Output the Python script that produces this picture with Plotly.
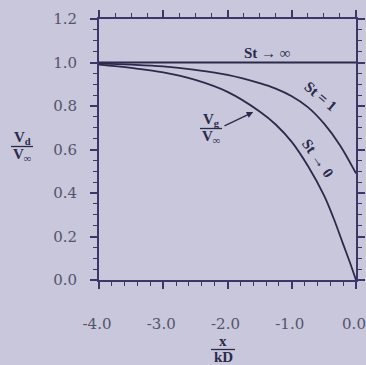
import plotly.graph_objects as go

# Data
x_inf = [-4.0, 0.0]
v_inf = [1.0, 1.0]

x_st1 = [-4.0, -3.5, -3.0, -2.5, -2.0, -1.5, -1.25, -1.0, -0.75, -0.5, -0.25, 0.0]
v_st1 = [0.995, 0.99, 0.982, 0.966, 0.943, 0.905, 0.88, 0.845, 0.795, 0.72, 0.62, 0.49]

x_st0 = [-4.0, -3.5, -3.0, -2.5, -2.0, -1.5, -1.25, -1.0, -0.75, -0.5, -0.35, -0.2, -0.1, 0.0]
v_st0 = [0.99, 0.975, 0.955, 0.92, 0.865, 0.775, 0.715, 0.635, 0.525, 0.39, 0.285, 0.165, 0.085, 0.0]

x_ticks = [-4.0, -3.0, -2.0, -1.0, 0.0]
x_ticklabels = ["-4.0", "-3.0", "-2.0", "-1.0", "0.0"]
y_ticks = [0.0, 0.2, 0.4, 0.6, 0.8, 1.0, 1.2]
y_ticklabels = ["0.0", "0.2", "0.4", "0.6", "0.8", "1.0", "1.2"]

BG = "#c8c7dc"
INK = "#2b2a4a"
AX = "#3a3868"
TXT = "#55546a"
SERIF = "Liberation Serif, Times New Roman, serif"
TICKSERIF = "DejaVu Serif, serif"

fig = go.Figure()
fig.add_trace(go.Scatter(x=x_inf, y=v_inf, mode="lines", line=dict(color=INK, width=1.8),
                         xaxis="x2", yaxis="y2", hoverinfo="skip"))
fig.add_trace(go.Scatter(x=x_st1, y=v_st1, mode="lines",
                         line=dict(color=INK, width=1.8, shape="spline", smoothing=1.0),
                         hoverinfo="skip"))
fig.add_trace(go.Scatter(x=x_st0, y=v_st0, mode="lines",
                         line=dict(color=INK, width=1.8, shape="spline", smoothing=1.0),
                         hoverinfo="skip"))

tickfont = dict(family=TICKSERIF, size=15, color=TXT)
common_x = dict(range=[-4, 0], showgrid=False, zeroline=False, showline=True,
                linecolor=AX, linewidth=2, ticks="outside", tickcolor=AX,
                tickwidth=1.5, ticklen=7, fixedrange=True, automargin=False)
common_y = dict(range=[0, 1.2], showgrid=False, zeroline=False, showline=True,
                linecolor=AX, linewidth=2, ticks="outside", tickcolor=AX,
                tickwidth=1.5, ticklen=7, fixedrange=True, automargin=False)

fig.update_layout(
    width=366, height=365,
    margin=dict(l=99, r=10, t=19, b=85, autoexpand=False),
    paper_bgcolor=BG, plot_bgcolor=BG,
    showlegend=False,
    xaxis=dict(**common_x, tickmode="array", tickvals=x_ticks, ticktext=x_ticklabels,
               tickfont=tickfont, ticklabelstandoff=22, ticklabelshift=-2,
               minor=dict(dtick=0.2, tick0=-4, ticks="outside", ticklen=4,
                          tickcolor=AX, tickwidth=1.2)),
    xaxis2=dict(**common_x, overlaying="x", side="top", anchor="y2",
                tickmode="array", tickvals=x_ticks, showticklabels=False,
                minor=dict(dtick=0.25, tick0=-4, ticks="outside", ticklen=4,
                           tickcolor=AX, tickwidth=1.2)),
    yaxis=dict(**common_y, tickmode="array", tickvals=y_ticks, ticktext=y_ticklabels,
               tickfont=tickfont, ticklabelstandoff=10,
               minor=dict(dtick=0.05, tick0=0, ticks="outside", ticklen=4,
                          tickcolor=AX, tickwidth=1.2)),
    yaxis2=dict(**common_y, overlaying="y", side="right", anchor="x2",
                tickmode="array", tickvals=y_ticks, showticklabels=False,
                minor=dict(dtick=0.05, tick0=0, ticks="outside", ticklen=4,
                           tickcolor=AX, tickwidth=1.2)),
)

# plot area in pixels: left 99, width 257, top 19, height 261
def px(xp):
    return (xp - 99) / 257.0

def py(yp):
    return (280 - yp) / 261.0

labfont = dict(family=SERIF, size=15, color=INK)
ann = []

def frac(cx, ny, ly, dy, num, den, half):
    ann.append(dict(x=px(cx), y=py(ny), xref="paper", yref="paper", text=num,
                    showarrow=False, font=labfont, xanchor="center", yanchor="middle"))
    ann.append(dict(x=px(cx), y=py(dy), xref="paper", yref="paper", text=den,
                    showarrow=False, font=labfont, xanchor="center", yanchor="middle"))
    fig.add_shape(type="line", xref="paper", yref="paper",
                  x0=px(cx - half), x1=px(cx + half), y0=py(ly), y1=py(ly),
                  line=dict(color=INK, width=1.3))

# axis titles as fractions
frac(22, 138, 146.5, 155, "<b>V<sub>d</sub></b>", "<b>V<sub>∞</sub></b>", 11)
frac(223, 341, 349.5, 357, "<b>x</b>", "<b>kD</b>", 12)
# V_g / V_inf label
frac(211, 120, 128.5, 137, "<b>V<sub>g</sub></b>", "<b>V<sub>∞</sub></b>", 11)

# arrow from V_g label towards the St->0 curve
ann.append(dict(x=-1.60, y=0.772, ax=-2.07, ay=0.705, xref="x", yref="y",
                axref="x", ayref="y", text="", showarrow=True, arrowhead=2,
                arrowsize=1, arrowwidth=1.3, arrowcolor=INK))

curve_font = dict(family=SERIF, size=15, color=INK)
ann.append(dict(x=-1.37, y=1.045, xref="x", yref="y", text="<b>St → ∞</b>",
                showarrow=False, font=curve_font))
ann.append(dict(x=-0.56, y=0.845, xref="x", yref="y", text="<b>St = 1</b>",
                showarrow=False, font=curve_font, textangle=40))
ann.append(dict(x=-0.60, y=0.56, xref="x", yref="y", text="<b>St → 0</b>",
                showarrow=False, font=curve_font, textangle=55))

fig.update_layout(annotations=ann)

fig.write_html("out.html",
               config={"displayModeBar": False},
               post_script="document.body.style.margin='0';"
                           "document.body.style.background='" + BG + "';")
